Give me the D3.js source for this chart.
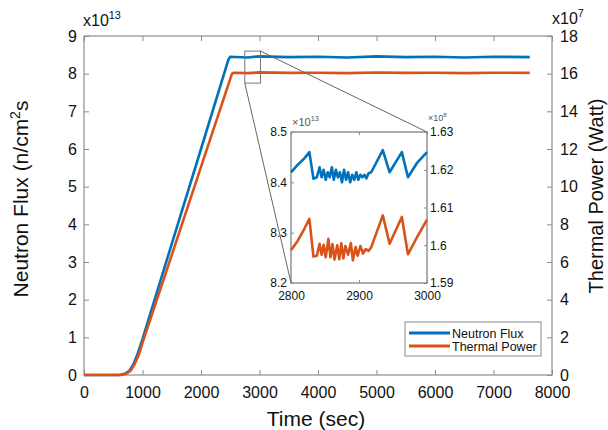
<!DOCTYPE html>
<html>
<head>
<meta charset="utf-8">
<script src="https://cdn.jsdelivr.net/npm/d3@7"></script>
<style>
  body { margin: 0; background: #fff; }
  svg text { font-family: "Liberation Sans", Arial, sans-serif; }
</style>
</head>
<body>
<div id="chart"></div>
<script>
// data
var fluxTime = [0, 600, 700, 780, 850, 920, 1000, 1500, 2000, 2470, 2500, 2800, 3000, 3500, 4000, 4500, 5000, 5500, 6000, 6500, 7000, 7620];
var flux = [0, 0, 0.03, 0.12, 0.3, 0.58, 0.95, 3.48, 6.0, 8.38, 8.45, 8.43, 8.46, 8.44, 8.45, 8.43, 8.46, 8.44, 8.45, 8.43, 8.45, 8.44];          // x10^13

var powerTime = [0, 630, 720, 800, 870, 940, 1000, 1500, 2000, 2530, 2560, 2800, 3000, 3500, 4000, 4500, 5000, 5500, 6000, 6500, 7000, 7620];
var power = [0, 0, 0.06, 0.24, 0.6, 1.1, 1.7, 6.37, 11.05, 16.0, 16.05, 16.03, 16.07, 16.04, 16.05, 16.03, 16.06, 16.04, 16.05, 16.03, 16.05, 16.04]; // x10^7

// inset (zoom on 2800-3000 s)
var insetFluxTime = [2800, 2810, 2820, 2827, 2833, 2838, 2842, 2845, 2848, 2851, 2854, 2857, 2860, 2863, 2866, 2869, 2872, 2875, 2878, 2881, 2884, 2887, 2890, 2893, 2896, 2899, 2902, 2905, 2908, 2911, 2914, 2918, 2935, 2945, 2963, 2972, 2985, 3000];
var insetFlux = [8.42, 8.435, 8.448, 8.46, 8.407, 8.41, 8.43, 8.41, 8.425, 8.405, 8.42, 8.41, 8.43, 8.405, 8.425, 8.41, 8.42, 8.40, 8.425, 8.405, 8.42, 8.40, 8.415, 8.405, 8.42, 8.405, 8.415, 8.41, 8.415, 8.408, 8.418, 8.42, 8.464, 8.42, 8.46, 8.41, 8.438, 8.46];   // x10^13

var insetPowerTime = [2800, 2810, 2820, 2827, 2833, 2838, 2842, 2845, 2848, 2851, 2855, 2858, 2861, 2864, 2868, 2871, 2874, 2877, 2880, 2884, 2888, 2891, 2895, 2898, 2902, 2906, 2910, 2914, 2918, 2935, 2945, 2963, 2972, 2985, 3000];
var insetPower = [1.5987, 1.6012, 1.6045, 1.607, 1.597, 1.5972, 1.6004, 1.5975, 1.6001, 1.5968, 1.6017, 1.5968, 1.6003, 1.5962, 1.6, 1.5963, 1.6005, 1.5965, 1.5998, 1.5975, 1.6006, 1.596, 1.5995, 1.5972, 1.5998, 1.5978, 1.599, 1.5985, 1.5995, 1.6079, 1.6004, 1.6075, 1.5976, 1.602, 1.6068];   // x10^8

var xTicks = [0, 1000, 2000, 3000, 4000, 5000, 6000, 7000, 8000];
var yLeftTicks = [0, 1, 2, 3, 4, 5, 6, 7, 8, 9];
var yRightTicks = [0, 2, 4, 6, 8, 10, 12, 14, 16, 18];
var insetXTicks = [2800, 2900, 3000];
var insetLeftTicks = [8.2, 8.3, 8.4, 8.5];
var insetRightTicks = [1.59, 1.6, 1.61, 1.62, 1.63];
var legendLabels = ["Neutron Flux", "Thermal Power"];

var blue = "#0072BD", orange = "#D95319", axisGrey = "#8c8c8c";

var svg = d3.select("#chart").append("svg")
  .attr("width", 608)
  .attr("height", 430);

var x = d3.scaleLinear().domain([0, 8000]).range([84, 552]);
var yL = d3.scaleLinear().domain([0, 9]).range([375, 36]);
var yR = d3.scaleLinear().domain([0, 18]).range([375, 36]);

// frame
svg.append("rect")
  .attr("x", 84).attr("y", 36)
  .attr("width", 468).attr("height", 339)
  .attr("fill", "none").attr("stroke", axisGrey).attr("stroke-width", 1.2);

function styleAxis(g, size) {
  g.select(".domain").remove();
  g.selectAll(".tick line").attr("stroke", axisGrey).attr("stroke-width", 1);
  g.selectAll(".tick text").attr("fill", "#111").style("font-size", size + "px");
}

svg.append("g").attr("transform", "translate(0,375)")
  .call(d3.axisBottom(x).tickValues(xTicks).tickFormat(d3.format("d")).tickSizeInner(-5).tickSizeOuter(0).tickPadding(12))
  .call(styleAxis, 16);
svg.append("g").attr("transform", "translate(0,36)")
  .call(d3.axisTop(x).tickValues(xTicks).tickSizeInner(-5).tickSizeOuter(0).tickFormat(""))
  .call(styleAxis, 16);
svg.append("g").attr("transform", "translate(84,0)")
  .call(d3.axisLeft(yL).tickValues(yLeftTicks).tickSizeInner(-5).tickSizeOuter(0).tickPadding(7))
  .call(styleAxis, 16);
svg.append("g").attr("transform", "translate(552,0)")
  .call(d3.axisRight(yR).tickValues(yRightTicks).tickSizeInner(-5).tickSizeOuter(0).tickPadding(8))
  .call(styleAxis, 16);

// multipliers
function multiplier(g, px, py, base, exp, size, colour) {
  var t = g.append("text").attr("x", px).attr("y", py)
    .attr("fill", colour).style("font-size", size + "px");
  t.append("tspan").text(base);
  t.append("tspan").attr("dy", -size * 0.45).style("font-size", (size * 0.68) + "px").text(exp);
}
multiplier(svg, 83, 26, "x10", "13", 16, "#111");
multiplier(svg, 552, 24, "x10", "7", 16, "#111");

// lines
var lineL = d3.line().x(function(d) { return x(d[0]); }).y(function(d) { return yL(d[1]); });
var lineR = d3.line().x(function(d) { return x(d[0]); }).y(function(d) { return yR(d[1]); });

svg.append("path")
  .datum(d3.zip(fluxTime, flux))
  .attr("d", lineL)
  .attr("fill", "none").attr("stroke", blue).attr("stroke-width", 2.6);
svg.append("path")
  .datum(d3.zip(powerTime, power))
  .attr("d", lineR)
  .attr("fill", "none").attr("stroke", orange).attr("stroke-width", 2.6);

// axis titles
svg.append("text")
  .attr("transform", "translate(316,420)")
  .attr("text-anchor", "middle").attr("dominant-baseline", "middle")
  .attr("fill", "#111").style("font-size", "21px")
  .text("Time (sec)");

var yTitle = svg.append("text")
  .attr("transform", "translate(28,199) rotate(-90)")
  .attr("text-anchor", "middle")
  .attr("fill", "#111").style("font-size", "21px");
yTitle.append("tspan").text("Neutron Flux (n/cm");
yTitle.append("tspan").attr("dy", -8).style("font-size", "14px").text("2");
yTitle.append("tspan").attr("dy", 8).text("s");

svg.append("text")
  .attr("transform", "translate(603,196) rotate(-90)")
  .attr("text-anchor", "middle")
  .attr("fill", "#111").style("font-size", "20px")
  .text("Thermal Power (Watt)");

// zoom box and connectors
var zx0 = x(2800), zx1 = x(3000), zy0 = yL(8.6), zy1 = yL(7.75);
svg.append("rect")
  .attr("x", zx0 - 3).attr("y", zy0)
  .attr("width", zx1 - zx0 + 4).attr("height", zy1 - zy0)
  .attr("fill", "none").attr("stroke", "#777").attr("stroke-width", 1);

// inset
var xi = d3.scaleLinear().domain([2800, 3000]).range([291, 427]);
var yi = d3.scaleLinear().domain([8.2, 8.5]).range([283, 132]);
var yiR = d3.scaleLinear().domain([1.59, 1.63]).range([283, 132]);

svg.append("line")
  .attr("x1", zx1 + 1).attr("y1", zy0).attr("x2", 427).attr("y2", 132)
  .attr("stroke", "#666").attr("stroke-width", 1);
svg.append("line")
  .attr("x1", zx0 - 3).attr("y1", zy1).attr("x2", 291).attr("y2", 283)
  .attr("stroke", "#666").attr("stroke-width", 1);

var inset = svg.append("g");
inset.append("rect")
  .attr("x", 291).attr("y", 132).attr("width", 136).attr("height", 151)
  .attr("fill", "#fff").attr("stroke", "#777").attr("stroke-width", 1.2);

inset.append("g").attr("transform", "translate(0,283)")
  .call(d3.axisBottom(xi).tickValues(insetXTicks).tickFormat(d3.format("d")).tickSizeInner(-3).tickSizeOuter(0).tickPadding(8))
  .call(styleAxis, 12);
inset.append("g").attr("transform", "translate(0,132)")
  .call(d3.axisTop(xi).tickValues(insetXTicks).tickSizeInner(-3).tickSizeOuter(0).tickFormat(""))
  .call(styleAxis, 12);
inset.append("g").attr("transform", "translate(291,0)")
  .call(d3.axisLeft(yi).tickValues(insetLeftTicks).tickSizeInner(-3).tickSizeOuter(0).tickPadding(4).tickFormat(d3.format(".1f")))
  .call(styleAxis, 12);
inset.append("g").attr("transform", "translate(427,0)")
  .call(d3.axisRight(yiR).tickValues(insetRightTicks).tickSizeInner(-3).tickSizeOuter(0).tickPadding(3).tickFormat(d3.format("~g")))
  .call(styleAxis, 12);

multiplier(inset, 292, 126, "\u00d710", "13", 11, "#555");
multiplier(inset, 428, 121, "\u00d710", "8", 9, "#555");

var liL = d3.line().x(function(d) { return xi(d[0]); }).y(function(d) { return yi(d[1]); });
var liR = d3.line().x(function(d) { return xi(d[0]); }).y(function(d) { return yiR(d[1]); });
inset.append("path")
  .datum(d3.zip(insetFluxTime, insetFlux))
  .attr("d", liL)
  .attr("fill", "none").attr("stroke", blue).attr("stroke-width", 2.6).attr("stroke-linejoin", "round");
inset.append("path")
  .datum(d3.zip(insetPowerTime, insetPower))
  .attr("d", liR)
  .attr("fill", "none").attr("stroke", orange).attr("stroke-width", 2.6).attr("stroke-linejoin", "round");

// legend
var legend = svg.append("g");
legend.append("rect")
  .attr("x", 405).attr("y", 322).attr("width", 136).attr("height", 34)
  .attr("fill", "#fff").attr("stroke", "#888").attr("stroke-width", 1);
[blue, orange].forEach(function(c, i) {
  var ly = 333 + i * 13;
  legend.append("line")
    .attr("x1", 409).attr("x2", 450).attr("y1", ly).attr("y2", ly)
    .attr("stroke", c).attr("stroke-width", 2.8);
  legend.append("text")
    .attr("x", 452).attr("y", ly + 4.5)
    .attr("fill", "#111").style("font-size", "12.5px")
    .text(legendLabels[i]);
});
</script>
</body>
</html>
